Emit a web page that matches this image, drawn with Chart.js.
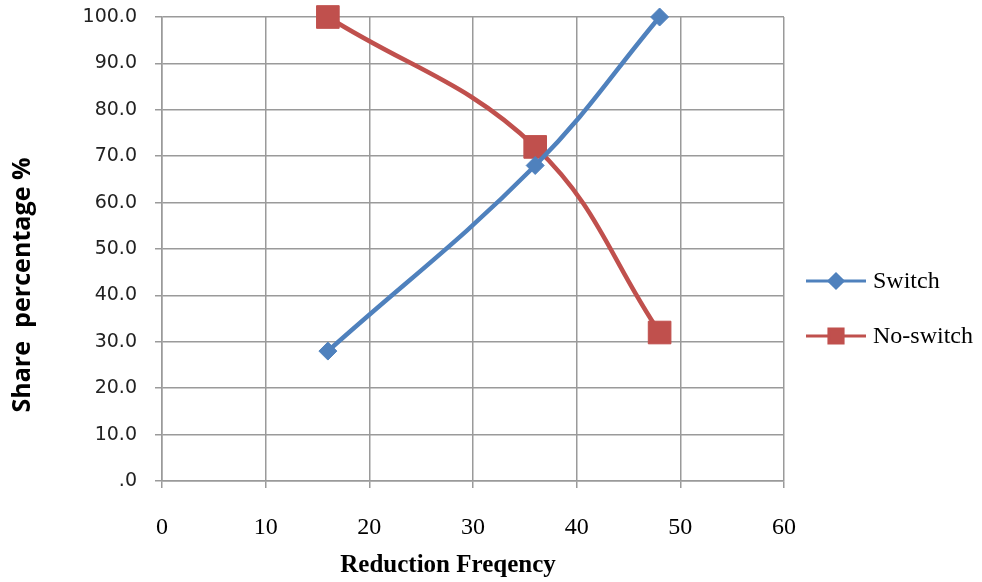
<!DOCTYPE html>
<html>
<head>
<meta charset="utf-8">
<script src="https://cdn.jsdelivr.net/npm/chart.js@4/dist/chart.umd.min.js"></script>
<style>
  html, body { margin: 0; padding: 0; background: #fff; }
  #wrap { width: 982px; height: 582px; }
</style>
</head>
<body>
<div id="wrap"><canvas id="chart" width="982" height="582"></canvas></div>
<script>
// values
const reductionFreq = [16, 36, 48];
const switchShare = [28, 68, 100];
const noSwitchShare = [100, 72, 32];
const seriesNames = ['Switch', 'No-switch'];
const xTitle = 'Reduction Freqency';
const yTitle = 'Share  percentage %';

const BLUE = '#4f81bd';
const RED = '#c0504d';
const GRID = '#9a9a9a';

const toPoints = (ys) => reductionFreq.map((x, i) => ({ x, y: ys[i] }));

// axis titles + Excel-style legend (line with marker), drawn after the chart
const decorations = {
  id: 'decorations',
  afterDraw(chart) {
    const { ctx } = chart;
    ctx.save();
    ctx.fillStyle = '#000';

    // y title: fit to the ~255px span it has in the original
    ctx.font = 'bold 20px "Open Sans", sans-serif';
    const size = 20 * 255 / ctx.measureText(yTitle).width;
    ctx.font = `bold ${size.toFixed(1)}px "Open Sans", sans-serif`;
    ctx.textAlign = 'center';
    ctx.textBaseline = 'middle';
    ctx.translate(23, 285);
    ctx.rotate(-Math.PI / 2);
    ctx.fillText(yTitle, 0, 0);
    ctx.setTransform(1, 0, 0, 1, 0, 0);

    ctx.font = 'bold 25px "Liberation Serif", "DejaVu Serif", serif';
    ctx.fillText(xTitle, 448, 566);

    const legendY = [281, 336];
    chart.data.datasets.forEach((ds, i) => {
      const y = legendY[i];
      ctx.strokeStyle = ds.borderColor;
      ctx.lineWidth = 3;
      ctx.beginPath();
      ctx.moveTo(806, y);
      ctx.lineTo(866, y);
      ctx.stroke();
      ctx.fillStyle = ds.borderColor;
      Chart.helpers.drawPoint(ctx, {
        pointStyle: ds.pointStyle,
        radius: ds.pointStyle === 'rect' ? 10 : 7,
        rotation: 0,
        borderWidth: 1
      }, 836, y);
      ctx.fillStyle = '#000';
      ctx.font = '24px "Liberation Serif", "DejaVu Serif", serif';
      ctx.textAlign = 'left';
      ctx.fillText(ds.label, 873, y + 1);
    });
    ctx.restore();
  }
};

new Chart(document.getElementById('chart'), {
  type: 'line',
  data: {
    datasets: [
      {
        label: seriesNames[0],
        data: toPoints(switchShare),
        borderColor: BLUE,
        backgroundColor: BLUE,
        borderWidth: 4.5,
        pointStyle: 'rectRot',
        pointRadius: 9,
        pointHoverRadius: 9,
        pointBorderWidth: 1,
        tension: 0.4,
        clip: false
      },
      {
        label: seriesNames[1],
        data: toPoints(noSwitchShare),
        borderColor: RED,
        backgroundColor: RED,
        borderWidth: 4.5,
        pointStyle: 'rect',
        pointRadius: 16,
        pointHoverRadius: 16,
        pointBorderWidth: 1,
        tension: 0.4,
        clip: false
      }
    ]
  },
  options: {
    responsive: false,
    animation: false,
    layout: { padding: { left: 0, right: 198, top: 17, bottom: 0 } },
    plugins: {
      legend: { display: false },
      tooltip: { enabled: false }
    },
    scales: {
      x: {
        type: 'linear',
        min: 0,
        max: 60,
        afterFit: (s) => { s.height = 101; s.paddingLeft = 0; s.paddingRight = 0; },
        ticks: {
          stepSize: 10,
          padding: 25,
          color: '#000',
          font: { family: '"Liberation Serif", serif', size: 24 }
        },
        grid: { color: GRID, lineWidth: 1.5, tickLength: 7 },
        border: { color: GRID, width: 1.5 }
      },
      y: {
        min: 0,
        max: 100,
        afterFit: (s) => { s.width = 162; s.paddingTop = 0; s.paddingBottom = 0; },
        ticks: {
          stepSize: 10,
          padding: 18,
          color: '#222',
          font: { family: '"DejaVu Sans", sans-serif', size: 19 },
          callback: (v) => (v === 0 ? '.0' : v.toFixed(1))
        },
        grid: { color: GRID, lineWidth: 1.5, tickLength: 7 },
        border: { color: GRID, width: 1.5 }
      }
    }
  },
  plugins: [decorations]
});
</script>
</body>
</html>
